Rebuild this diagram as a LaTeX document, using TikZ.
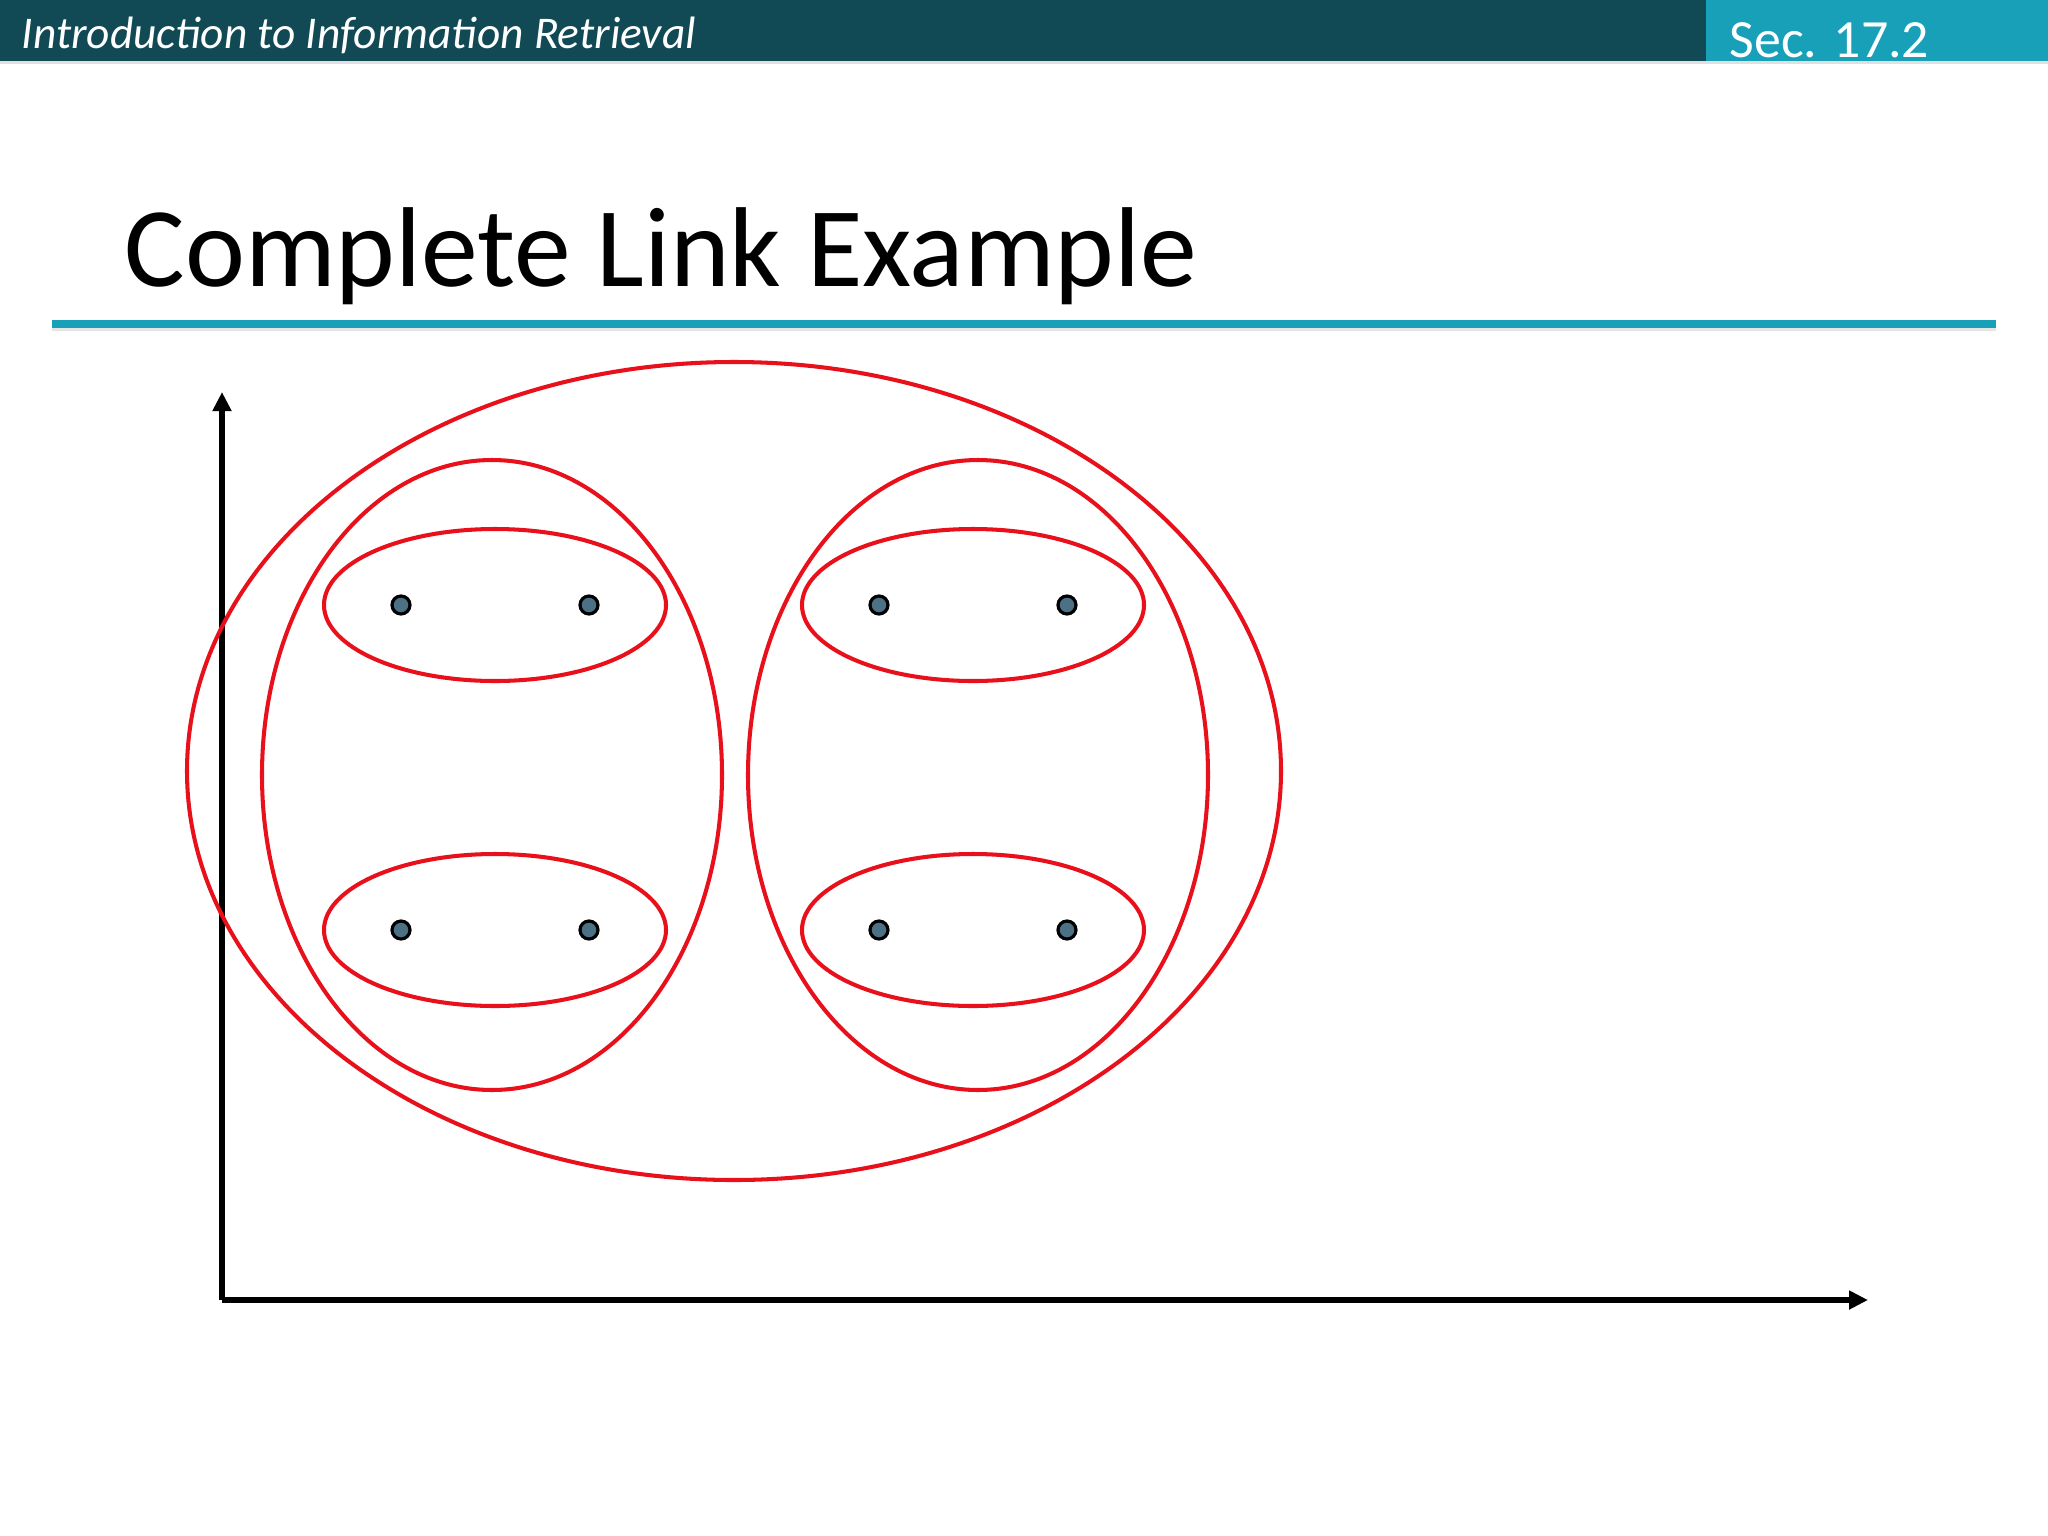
\documentclass[tikz,border=0pt]{standalone}
\usepackage{fontspec}
\setmainfont{Carlito}
\usetikzlibrary{arrows.meta}
\definecolor{barteal}{HTML}{114A55}
\definecolor{secteal}{HTML}{17A0B8}
\definecolor{dotblue}{HTML}{4C7186}
\definecolor{clusred}{HTML}{E8101A}

\begin{document}
\begin{tikzpicture}[x=0.01cm,y=-0.01cm,
  clus/.style={draw=clusred,line width=1.15pt},
  pt/.style={circle,draw=black,fill=dotblue,line width=0.9pt,inner sep=0pt,minimum size=0.18cm},
  axis/.style={line width=1.5pt,-{Triangle[length=0.19cm,width=0.18cm]}}]
\useasboundingbox (0,0) rectangle (2048,1536);
\fill[white] (0,0) rectangle (2048,1536);
% header
\fill[barteal] (0,0) rectangle (1706,61);
\fill[secteal] (1706,0) rectangle (2048,61);
\fill[black!12] (0,61) rectangle (2048,64);
\node[anchor=base west,inner sep=0pt,text=white,font=\itshape\fontsize{12.9}{15}\selectfont] (course) at (21,48) {Introduction to Information Retrieval};
\node[anchor=base west,inner sep=0pt,text=white,font=\fontsize{15.3}{18}\selectfont] (sec) at (1729,57) {Sec. 17.2};
% title
\node[anchor=base west,inner sep=0pt,font=\fontsize{32.3}{38}\selectfont] (title) at (124,286) {Complete Link Example};
\fill[secteal] (52,320) rectangle (1996,328);
\fill[black!10] (52,328) rectangle (1996,331);
% axes
\coordinate (o) at (222,1300);
\coordinate (ytip) at (222,392);
\coordinate (xtip) at (1868,1300);
\draw[axis] (o) -- (ytip);
\draw[axis] (o) -- (xtip);
% clusters
\draw[clus] (734,771) ellipse [x radius=547, y radius=409];
\foreach\x in {492,978}
 \draw[clus] (\x,775) ellipse [x radius=230, y radius=315];
\foreach\x in {495,973}
 \foreach\y in {605,930}
  \draw[clus] (\x,\y) ellipse [x radius=171, y radius=76];
% points
\foreach\x/\n in {401/a,589/b,879/c,1067/d}
 \foreach\y/\m in {605/1,930/2}
  \node[pt] (\n\m) at (\x,\y) {};
\end{tikzpicture}
\end{document}
